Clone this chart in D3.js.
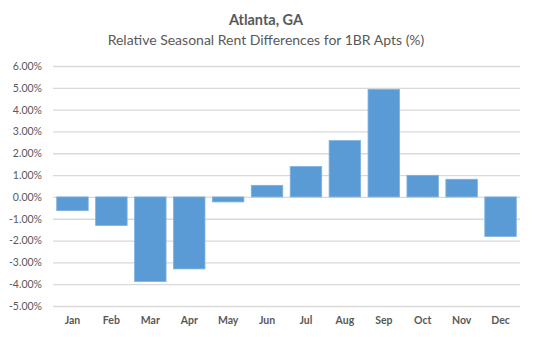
<!DOCTYPE html>
<html><head><meta charset="utf-8">
<script src="https://cdn.jsdelivr.net/npm/d3@7"></script>
<style>body{margin:0;background:#fff}svg{display:block}</style>
</head><body>
<script>
const months = ["Jan","Feb","Mar","Apr","May","Jun","Jul","Aug","Sep","Oct","Nov","Dec"];
const values = [-0.63,-1.31,-3.88,-3.30,-0.23,0.53,1.39,2.58,4.93,0.99,0.81,-1.81];
const yTicks = [6,5,4,3,2,1,0,-1,-2,-3,-4,-5];
const title = "Atlanta, GA";
const subtitle = "Relative Seasonal Rent Differences for 1BR Apts (%)";

const W = 535, H = 337;
const svg = d3.select("body").append("svg").attr("width", W).attr("height", H);
const font = "Lato, 'Open Sans', sans-serif";
const txt = "#595959";

const x = d3.scaleBand().domain(months).range([53, 520]).paddingInner(0.19).paddingOuter(0.095);
const y = d3.scaleLinear().domain([-5, 6]).range([306, 66]);

// gridlines
const yAxis = d3.axisLeft(y).tickValues(yTicks).tickSize(-(520-53)).tickFormat(d => d.toFixed(2) + "%").tickPadding(11);
const ga = svg.append("g").attr("transform", "translate(53,0)").call(yAxis);
ga.select(".domain").remove();
ga.selectAll(".tick line").attr("stroke", "#d9d9d9").attr("stroke-width", 1.3);
ga.selectAll(".tick text").attr("fill", txt).style("font-family", font).style("font-size", "10.5px");

// bars
svg.append("g").selectAll("rect").data(values).join("rect")
  .attr("x", (d, i) => x(months[i]))
  .attr("width", x.bandwidth())
  .attr("y", d => y(Math.max(0, d)))
  .attr("height", d => Math.abs(y(d) - y(0)))
  .attr("fill", "#5b9bd5")
  .attr("stroke", "#7fb2e0").attr("stroke-width", 0.8);

// x labels
const xAxis = d3.axisBottom(x).tickSize(0).tickPadding(0);
const xa = svg.append("g").attr("transform", "translate(0,317)").call(xAxis);
xa.select(".domain").remove();
xa.selectAll(".tick text").attr("fill", txt).style("font-family", font).style("font-size", "10.5px").style("font-weight", "bold");

svg.append("text").attr("x", 266).attr("y", 25).attr("text-anchor", "middle")
  .attr("fill", txt).style("font-family", font).style("font-size", "14.5px").style("font-weight", "bold").text(title);
svg.append("text").attr("x", 266).attr("y", 45).attr("text-anchor", "middle")
  .attr("fill", txt).style("font-family", font).style("font-size", "14px").text(subtitle);
</script>
</body></html>
